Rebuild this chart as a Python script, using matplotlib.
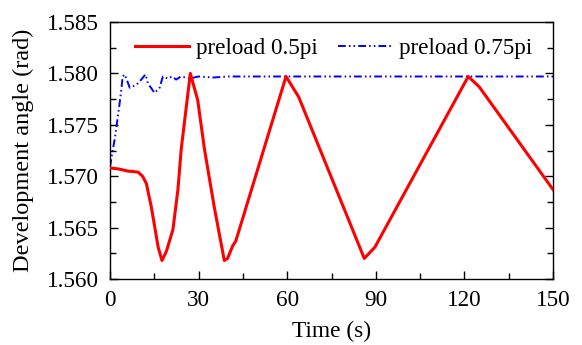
import matplotlib
matplotlib.use("Agg")
import matplotlib.pyplot as plt
from matplotlib.ticker import MultipleLocator, FormatStrFormatter

plt.rcParams['font.family'] = ['Liberation Serif', 'DejaVu Serif']

# Red series: preload 0.5pi
t_red = [0, 3, 6, 9.5, 11, 12.3, 14, 16.3, 17.6, 19.1, 21.3, 23, 24.1, 27.2,
         29.7, 32, 35.3, 38.7, 39.8, 41.5, 42.6, 59.6, 63.9, 86.1, 89.7,
         121.3, 125, 150]
y_red = [1.5708, 1.5707, 1.5705, 1.5704, 1.5700, 1.5693, 1.5670, 1.5631, 1.5618,
         1.5627, 1.5648, 1.5687, 1.5726, 1.5800, 1.5774, 1.5726, 1.5670, 1.5618,
         1.5620, 1.5632, 1.5637, 1.5797, 1.5777, 1.5620, 1.5631,
         1.5797, 1.5787, 1.5687]

# Blue series: preload 0.75pi
t_blue = [0, 0.56, 1.7, 2.8, 3.7, 4.3, 5, 6.7, 9, 10.6, 12, 12.9, 15.1, 16.8,
          17.9, 19.6, 21, 22.4, 24, 27, 30, 35, 40, 60, 90, 120, 150]
y_blue = [1.5709, 1.5719, 1.5738, 1.5761, 1.5781, 1.5797, 1.5799, 1.5786, 1.5789,
          1.5794, 1.5799, 1.5790, 1.5781, 1.5786, 1.5797, 1.5795, 1.5797, 1.5794,
          1.5797, 1.5795, 1.5797, 1.5796, 1.5797, 1.5797, 1.5797, 1.5797, 1.5797]

fig = plt.figure(figsize=(5.82, 3.45), dpi=100)
ax = fig.add_axes([110/582, 1 - 279/345, (553-110)/582, (279-22)/345])

ax.plot(t_red, y_red, color='#ff0000', lw=2.2, label='preload 0.5pi', zorder=3)
ax.plot(t_blue, y_blue, color='#0000ff', lw=1.4,
        linestyle=(0, (4, 1.6, 0.8, 1.6, 0.8, 1.6)), label='preload 0.75pi', zorder=2)

ax.set_xlim(0, 150)
ax.set_ylim(1.560, 1.585)
ax.xaxis.set_major_locator(MultipleLocator(30))
ax.xaxis.set_minor_locator(MultipleLocator(15))
ax.yaxis.set_major_locator(MultipleLocator(0.005))
ax.yaxis.set_minor_locator(MultipleLocator(0.0025))
ax.yaxis.set_major_formatter(FormatStrFormatter('%.3f'))
ax.tick_params(which='both', direction='in', top=False, right=True,
               labelsize=16.7, pad=8)
ax.tick_params(which='major', length=6, width=1)
ax.tick_params(which='minor', length=4, width=1)
for s in ax.spines.values():
    s.set_linewidth(1)

ax.set_xlabel('Time (s)', fontsize=16.8, labelpad=7)
ax.set_ylabel('Development angle (rad)', fontsize=17.5, labelpad=9)

ax.legend(loc='upper center', ncol=2, frameon=False, fontsize=16.7,
          handlelength=2.3, columnspacing=0.9, handletextpad=0.3,
          bbox_to_anchor=(0.505, 1.02))

fig.savefig('out.png', dpi=100)
